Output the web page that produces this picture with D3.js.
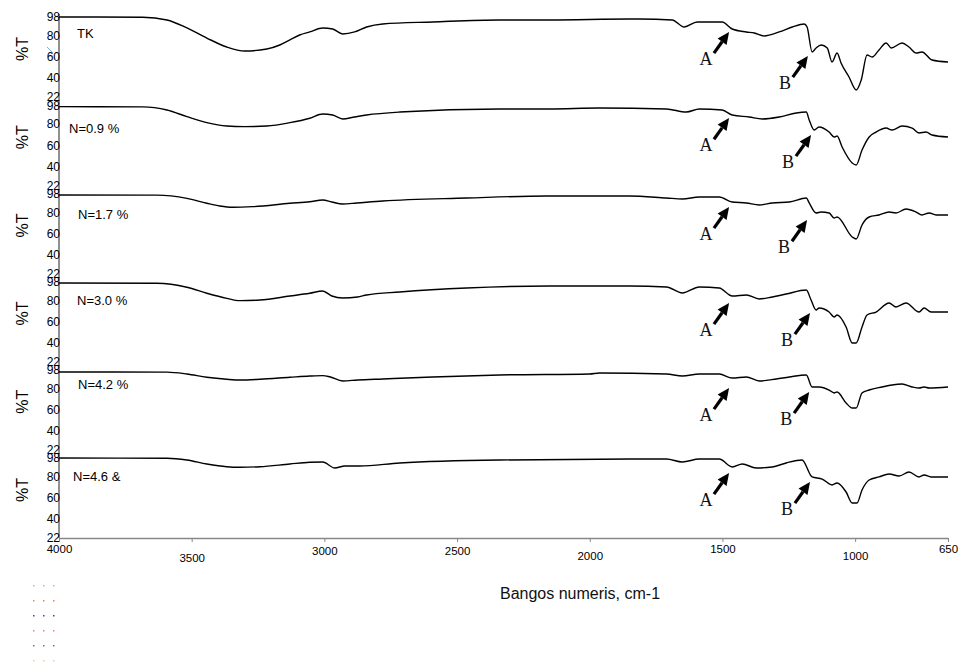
<!DOCTYPE html>
<html>
<head>
<meta charset="utf-8">
<title>IR spektrai</title>
<script src="https://cdn.jsdelivr.net/npm/d3@7"></script>
<style>
  html, body { margin: 0; padding: 0; background: #fff; }
  svg { display: block; font-family: Arial, "Liberation Sans", sans-serif; }
</style>
</head>
<body>
<div id="chart"></div>
<script>
// duomenys: [bangos skaicius cm-1, %T]
const sampleLabels = ['TK', 'N=0.9 %', 'N=1.7 %', 'N=3.0 %', 'N=4.2 %', 'N=4.6 &'];

const seriesTK = [[4000,98],[3684,97.8],[3593,95.2],[3518,87.6],[3443,78],[3368,69.5],[3300,65.7],[3217,67.6],[3168,71.4],[3130,76.2],[3093,80.9],[3055,83.8],[3006,87.6],[2969,86.6],[2931,81.9],[2886,83.8],[2841,88.5],[2780,91.4],[2592,93.3],[2340,95.2],[2152,95.2],[1851,96.1],[1813,96.1],[1689,95.2],[1644,88.5],[1595,93.3],[1501,93.3],[1463,86.6],[1410,83.8],[1380,82.8],[1343,80],[1286,83.8],[1237,88.5],[1192,91.4],[1181,88.5],[1162,64.8],[1147,68.6],[1128,71.4],[1105,68.6],[1087,55.3],[1068,63.8],[1053,54.3],[1023,41],[996,28.7],[977,38.2],[955,61.9],[936,60],[910,66.7],[883,73.3],[864,68.6],[823,73.3],[797,69.5],[770,63.8],[748,64.8],[710,57.2],[650,55.3]];

const seriesN09 = [[4000,96.6],[3684,96.4],[3593,93.4],[3518,87.1],[3443,81.4],[3368,78.2],[3300,77.6],[3217,78.2],[3130,81.4],[3055,85.6],[3006,89.6],[2969,88.7],[2931,84.9],[2886,86.8],[2841,88.7],[2716,91.5],[2340,94.4],[2152,94.4],[1964,95.3],[1711,94.4],[1636,91.5],[1587,94.4],[1501,93.4],[1463,88.7],[1399,86.8],[1350,84.9],[1286,86.8],[1222,90.6],[1184,91.5],[1173,83.9],[1154,74.4],[1136,77.3],[1098,72.5],[1079,67.8],[1068,68.7],[1049,58.3],[1011,43.1],[996,41.2],[974,55.4],[947,67.8],[921,72.5],[883,76.3],[861,74.4],[823,78.2],[785,76.3],[759,71.6],[733,72.5],[710,69.7],[650,67.8]];

const seriesN17 = [[4000,96.5],[3631,96.4],[3518,93.3],[3443,88.6],[3394,86],[3345,84.8],[3270,85.4],[3130,88.6],[3055,90.1],[3006,91.7],[2972,89.8],[2931,87.9],[2878,88.9],[2780,90.8],[2464,93.6],[2163,95.5],[1851,95.5],[1711,93.6],[1651,92.7],[1587,94.6],[1512,94.6],[1463,89.8],[1410,88.9],[1361,87],[1312,88.9],[1248,89.8],[1184,93.6],[1173,88.9],[1147,79.4],[1128,80.3],[1098,79.4],[1079,74.6],[1068,75.6],[1011,56.6],[996,54.7],[974,68],[947,75.6],[910,77.5],[872,80.3],[846,79.4],[808,83.2],[770,80.3],[748,77.5],[721,79.4],[695,77.5],[650,77.5]];

const seriesN30 = [[4000,96.7],[3631,96.4],[3518,92.6],[3443,86.9],[3368,82.1],[3319,79.9],[3243,80.5],[3130,84.3],[3055,86.9],[3006,89.1],[2972,84.3],[2931,82.4],[2875,83.4],[2841,85.3],[2716,88.1],[2464,91.9],[2152,93.8],[1851,93.8],[1711,92.9],[1651,87.2],[1587,92.9],[1512,91.9],[1463,84.3],[1410,85.3],[1361,81.5],[1312,83.4],[1260,86.2],[1184,90],[1166,80.5],[1147,71],[1136,72.9],[1098,69.1],[1079,64.4],[1068,66.3],[1034,54.9],[1011,39.7],[996,39.7],[974,54.9],[955,66.3],[921,69.1],[872,77.7],[846,73.9],[808,77.7],[759,69.1],[740,72.9],[714,69.1],[650,69.1]];

const seriesN42 = [[4000,95.9],[3593,95.8],[3518,94],[3443,90.9],[3368,89],[3319,88.3],[3243,89],[3130,90.9],[3055,92.1],[3006,92.5],[2980,91.4],[2931,87.4],[2875,88.3],[2780,89.3],[2592,91.2],[2340,93.1],[2000,94],[1964,95],[1711,94],[1651,92.1],[1587,94],[1512,94],[1463,90.2],[1410,91.2],[1361,87.4],[1297,89.3],[1248,91.2],[1184,93.1],[1162,81.7],[1136,81.7],[1098,78.8],[1079,76],[1068,76.9],[1034,66.5],[1011,61.7],[996,61.7],[974,76],[947,78.8],[898,81.7],[861,83.6],[823,84.5],[785,81.7],[759,80.7],[740,81.7],[721,80.7],[650,81.7]];

const seriesN46 = [[4000,98],[3593,97.8],[3518,96.1],[3443,92.3],[3368,89.7],[3319,89.2],[3243,89.7],[3130,92.3],[3055,93.9],[3006,94.2],[2961,88.5],[2923,90.4],[2867,90.4],[2716,93.3],[2340,96.1],[1851,97],[1711,97],[1651,94.2],[1587,97],[1512,97],[1463,89.5],[1425,92.3],[1373,88.5],[1312,89.5],[1260,93.3],[1200,96.1],[1162,80],[1124,78],[1087,72.4],[1068,74.3],[1034,65.7],[1011,55.3],[993,55.3],[974,67.6],[947,77.1],[910,80],[872,82.8],[834,80.9],[797,84.7],[759,80],[740,81.9],[714,80],[650,80]];

// rodykles A ir B: [bangos skaicius, %T] kur rodo smaigalys
const arrowA = [[1475,83.8],[1475,85.8],[1475,85.1],[1475,77.7],[1475,80.7],[1475,83.8]];
const arrowB = [[1178,61],[1166,69.7],[1181,72.7],[1170,68.2],[1173,76.9],[1170,75.2]];

const yTicks = [22, 40, 60, 80, 98];
const xTicks = [4000, 3500, 3000, 2500, 2000, 1500, 1000, 650];

const allSeries = [seriesTK, seriesN09, seriesN17, seriesN30, seriesN42, seriesN46];

const W = 964, H = 667;
const panelTop0 = 17, panelStep = 88.2, panelH = 80;

const svg = d3.select('#chart').append('svg')
  .attr('width', W)
  .attr('height', H);

const x = d3.scaleLinear()
  .domain([4000, 650])
  .range([59, 948]);

// nedideli etikeciu poslinkiai (kaip originale)
const labelNudge = [[1, -3], [-7, 4], [2, 2], [1, 0], [2, -4], [-3, -1]];
const tickStagger = [0, 9, 2, 2, 7, 0, 7, 0];

const yScales = allSeries.map((s, i) => {
  const top = panelTop0 + i * panelStep;
  return d3.scaleLinear().domain([22, 98]).range([top + panelH, top]);
});

// vertikali asis per visus grafikus
svg.append('line')
  .attr('x1', x(4000)).attr('x2', x(4000))
  .attr('y1', yScales[0](98) - 3)
  .attr('y2', yScales[yScales.length - 1](22))
  .attr('stroke', '#222')
  .attr('stroke-width', 1);

function drawArrow(g, px, py, label) {
  const dx = 0.581, dy = -0.814; // kryptis i virsu-desine
  const headLen = 12, headW = 5.5, shaftLen = 26;
  const bx = px - dx * headLen, by = py - dy * headLen;
  const nx = -dy, ny = dx;
  g.append('line')
    .attr('x1', px - dx * shaftLen).attr('y1', py - dy * shaftLen)
    .attr('x2', bx).attr('y2', by)
    .attr('stroke', '#000')
    .attr('stroke-width', 3.2);
  g.append('path')
    .attr('d', `M${px},${py}L${bx + nx * headW},${by + ny * headW}L${bx - nx * headW},${by - ny * headW}Z`)
    .attr('fill', '#000');
  g.append('text')
    .attr('x', px - 23)
    .attr('y', py + 33)
    .attr('text-anchor', 'middle')
    .style('font-family', '"Liberation Serif", "Times New Roman", serif')
    .style('font-size', '18px')
    .attr('fill', '#111')
    .text(label);
}

allSeries.forEach((data, i) => {
  const y = yScales[i];
  const top = y(98);
  const g = svg.append('g').attr('class', 'panel');

  // y asies skaiciai
  const yAxisG = g.append('g')
    .attr('transform', `translate(${x(4000)},0)`)
    .call(d3.axisLeft(y).tickValues(yTicks).tickSize(0).tickPadding(-1));
  yAxisG.select('.domain').remove();
  yAxisG.selectAll('text')
    .attr('font-family', null)
    .style('font-size', '12px')
    .attr('fill', '#000');

  // %T
  g.append('text')
    .attr('transform', `translate(22,${top + 32}) rotate(-90)`)
    .attr('text-anchor', 'middle')
    .attr('dominant-baseline', 'central')
    .style('font-size', '16px')
    .attr('fill', '#000')
    .text('%T');

  // spektro linija
  const line = d3.line()
    .x(d => x(d[0]))
    .y(d => y(d[1]))
    .curve(d3.curveMonotoneX);

  g.append('path')
    .datum(data)
    .attr('d', line)
    .attr('fill', 'none')
    .attr('stroke', '#000')
    .attr('stroke-width', 1.4)
    .attr('stroke-linejoin', 'round');

  // meginio pavadinimas
  g.append('text')
    .attr('x', 76 + labelNudge[i][0])
    .attr('y', top + 23.5 + labelNudge[i][1])
    .style('font-size', '13px')
    .attr('fill', '#000')
    .text(sampleLabels[i]);

  drawArrow(g, x(arrowA[i][0]), y(arrowA[i][1]), 'A');
  drawArrow(g, x(arrowB[i][0]), y(arrowB[i][1]), 'B');
});

// maza melyna zyme prie pirmo grafiko
svg.append('line')
  .attr('x1', 47).attr('y1', 47).attr('x2', 53).attr('y2', 53)
  .attr('stroke', '#7ab4e6')
  .attr('stroke-width', 1);

// x asis apacioje
const bottomY = yScales[yScales.length - 1](22);
const xAxisG = svg.append('g')
  .attr('transform', `translate(0,${bottomY})`)
  .call(d3.axisBottom(x).tickValues(xTicks).tickSize(4).tickSizeOuter(0).tickFormat(d3.format('d')));
xAxisG.select('.domain').attr('stroke', '#888').attr('stroke-width', 1.6);
xAxisG.selectAll('.tick line').attr('stroke', '#888');
xAxisG.selectAll('text')
  .attr('font-family', null)
  .style('font-size', '11.5px')
  .attr('fill', '#000')
  .attr('transform', (d, k) => `translate(0,${tickStagger[k]})`);

svg.append('text')
  .attr('x', 580)
  .attr('y', 599)
  .attr('text-anchor', 'middle')
  .style('font-size', '16px')
  .attr('fill', '#111')
  .text('Bangos numeris, cm-1');

// likusios legendos taskeliai
const dotColors = ['#a8b8c8', '#f0803a', '#3a3af0', '#f08080', '#3a9a50', '#f8c8a0'];
dotColors.forEach((c, r) => {
  [33, 43, 53].forEach(cx => {
    svg.append('rect')
      .attr('x', cx).attr('y', 585 + r * 15)
      .attr('width', 1.5).attr('height', 1.5)
      .attr('fill', c);
  });
});
</script>
</body>
</html>
